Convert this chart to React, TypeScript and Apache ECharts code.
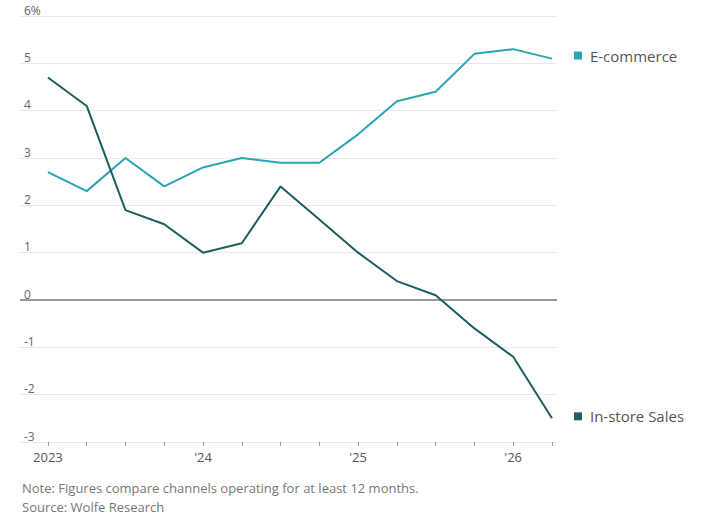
import React, { useEffect, useRef } from 'react';
import * as echarts from 'echarts';

// quarterly points, 2023 Q1 .. 2026 Q2
const quarters = ['2023', '', '', '', "'24", '', '', '', "'25", '', '', '', "'26", ''];
const ecommerce = [2.7, 2.3, 3.0, 2.4, 2.8, 3.0, 2.9, 2.9, 3.5, 4.2, 4.4, 5.2, 5.3, 5.1];
const inStore = [4.7, 4.1, 1.9, 1.6, 1.0, 1.2, 2.4, 1.7, 1.0, 0.4, 0.1, -0.6, -1.2, -2.5];
const yTicks = [-3, -2, -1, 0, 1, 2, 3, 4, 5, 6];

const FONT = '"Open Sans", "Noto Sans", sans-serif';

const App: React.FC = () => {
  const chartRef = useRef<HTMLDivElement>(null);

  useEffect(() => {
    document.body.style.margin = '0';
    const chart = echarts.init(chartRef.current!, null, { renderer: 'svg' });

    const idx = quarters.map((_, i) => i);
    const labelIdx = idx.filter((i) => quarters[i] !== '');

    const endLabel = (name: string, color: string, dy: number) => ({
      show: true,
      distance: 22,
      offset: [0, dy],
      formatter: `{sq|}{t|${name}}`,
      rich: {
        sq: { width: 8, height: 8, backgroundColor: color },
        t: { color: '#555', fontSize: 15, fontFamily: FONT, padding: [0, 0, 0, 8] },
      },
    });

    const options = {
      animation: false,
      grid: { left: 20, right: 163, top: 16, bottom: 80 },
      xAxis: {
        type: 'value',
        min: -0.72,
        max: 13.13,
        splitLine: { show: false },
        axisLine: { show: false, onZero: false },
        axisTick: {
          show: true,
          customValues: idx,
          length: 4,
          lineStyle: { color: '#999' },
        },
        axisLabel: {
          customValues: labelIdx,
          formatter: (v: number) => quarters[Math.round(v)] ?? '',
          color: '#555',
          fontSize: 13,
          fontFamily: FONT,
          margin: 8,
        },
      },
      yAxis: {
        type: 'value',
        min: yTicks[0],
        max: yTicks[yTicks.length - 1],
        interval: 1,
        axisLine: { show: false },
        axisTick: { show: false },
        splitLine: { lineStyle: { color: '#e8e8e8', width: 1 } },
        axisLabel: {
          inside: true,
          verticalAlign: 'bottom',
          margin: 4,
          color: '#666',
          fontSize: 12,
          fontFamily: FONT,
          formatter: (v: number) => (v === 6 ? '6%' : String(v)),
        },
      },
      series: [
        {
          name: 'E-commerce',
          type: 'line',
          data: ecommerce.map((v, i) => [i, v]),
          symbol: 'none',
          lineStyle: { color: '#2aa3b5', width: 2 },
          itemStyle: { color: '#2aa3b5' },
          endLabel: endLabel('E-commerce', '#2aa3b5', -3),
          z: 3,
        },
        {
          name: 'In-store Sales',
          type: 'line',
          data: inStore.map((v, i) => [i, v]),
          symbol: 'none',
          lineStyle: { color: '#1d5e60', width: 2 },
          itemStyle: { color: '#1d5e60' },
          endLabel: endLabel('In-store Sales', '#1d5e60', -2),
          markLine: {
            silent: true,
            symbol: 'none',
            label: { show: false },
            lineStyle: { color: '#999', width: 2, type: 'solid' },
            data: [{ yAxis: 0 }],
            z: 1,
          },
          z: 4,
        },
      ],
      graphic: [
        {
          type: 'text',
          left: 22,
          top: 481,
          style: {
            text: 'Note: Figures compare channels operating for at least 12 months.',
            fill: '#777',
            fontSize: 13,
            fontFamily: FONT,
          },
        },
        {
          type: 'text',
          left: 22,
          top: 500,
          style: {
            text: 'Source: Wolfe Research',
            fill: '#777',
            fontSize: 13,
            fontFamily: FONT,
          },
        },
      ],
    };

    chart.setOption(options);

    return () => {
      chart.dispose();
    };
  }, []);

  return <div ref={chartRef} style={{ width: '720px', height: '522px' }}></div>;
};

export default App;
